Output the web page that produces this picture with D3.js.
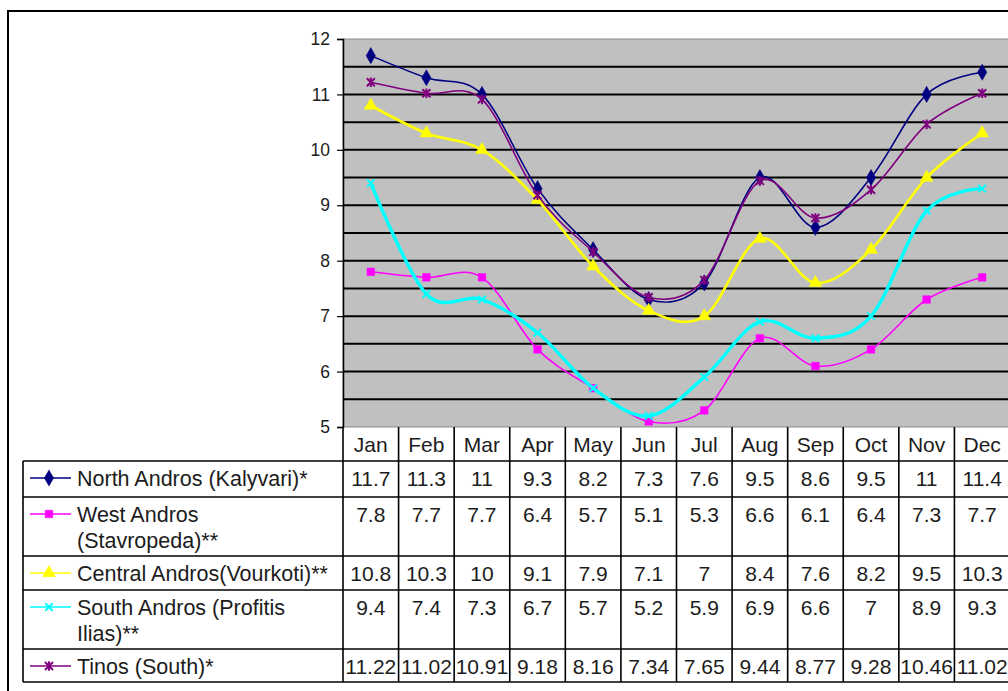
<!DOCTYPE html>
<html>
<head>
<meta charset="utf-8">
<script src="https://cdn.jsdelivr.net/npm/d3@7"></script>
<style>
  html, body { margin: 0; padding: 0; background: #ffffff; }
  svg { display: block; font-family: "Liberation Sans", Arial, sans-serif; }
</style>
</head>
<body>
<svg id="chart" width="1008" height="691"></svg>
<script>
// Monthly mean values per station
const months = ["Jan", "Feb", "Mar", "Apr", "May", "Jun", "Jul", "Aug", "Sep", "Oct", "Nov", "Dec"];
const northAndros   = [11.7, 11.3, 11, 9.3, 8.2, 7.3, 7.6, 9.5, 8.6, 9.5, 11, 11.4];
const westAndros    = [7.8, 7.7, 7.7, 6.4, 5.7, 5.1, 5.3, 6.6, 6.1, 6.4, 7.3, 7.7];
const centralAndros = [10.8, 10.3, 10, 9.1, 7.9, 7.1, 7, 8.4, 7.6, 8.2, 9.5, 10.3];
const southAndros   = [9.4, 7.4, 7.3, 6.7, 5.7, 5.2, 5.9, 6.9, 6.6, 7, 8.9, 9.3];
const tinos         = [11.22, 11.02, 10.91, 9.18, 8.16, 7.34, 7.65, 9.44, 8.77, 9.28, 10.46, 11.02];
const tinosLabels   = ["11.22", "11.02", "10.91", "9.18", "8.16", "7.34", "7.65", "9.44", "8.77", "9.28", "10.46", "11.02"];
const seriesNames = [
  ["North Andros (Kalyvari)*"],
  ["West Andros", "(Stavropeda)**"],
  ["Central Andros(Vourkoti)**"],
  ["South Andros (Profitis", "Ilias)**"],
  ["Tinos (South)*"]
];
const yTicks = [5, 6, 7, 8, 9, 10, 11, 12];

// custom stroke markers: "x" and asterisk
const symX = {
  draw(ctx, size) {
    const r = Math.sqrt(size) / 2;
    ctx.moveTo(-r, -r); ctx.lineTo(r, r);
    ctx.moveTo(r, -r); ctx.lineTo(-r, r);
  }
};
const symStar = {
  draw(ctx, size) {
    const r = Math.sqrt(size) / 2;
    ctx.moveTo(-r, -r); ctx.lineTo(r, r);
    ctx.moveTo(r, -r); ctx.lineTo(-r, r);
    ctx.moveTo(0, -r * 1.2); ctx.lineTo(0, r * 1.2);
  }
};

const series = [
  { values: northAndros,   labels: northAndros.map(String),   color: "#000080", width: 1.6, sym: d3.symbolDiamond,  size: 75, filled: true },
  { values: westAndros,    labels: westAndros.map(String),    color: "#ff00ff", width: 1.6, sym: d3.symbolSquare,   size: 58, filled: true },
  { values: centralAndros, labels: centralAndros.map(String), color: "#ffff00", width: 2.6, sym: d3.symbolTriangle, size: 72, filled: true },
  { values: southAndros,   labels: southAndros.map(String),   color: "#00ffff", width: 3.4, sym: symX,              size: 56, filled: false },
  { values: tinos,         labels: tinosLabels,               color: "#800080", width: 1.6, sym: symStar,           size: 64, filled: false }
];

const svg = d3.select("#chart");

// layout
const plot = { left: 343, right: 1010, top: 39, bottom: 427 };
const tableLeft = 23;
const rowEdges = [461, 497, 556, 590, 649, 682];
const headerTop = plot.bottom, headerBottom = rowEdges[0];
const lineGap = 26;
const textColor = "#1c1c1c";

// outer frame
svg.append("rect")
  .attr("x", 8).attr("y", 11).attr("width", 1020).attr("height", 700)
  .attr("fill", "#ffffff").attr("stroke", "#000").attr("stroke-width", 2);

const x = d3.scaleBand().domain(months).range([plot.left, plot.right]).padding(0);
const y = d3.scaleLinear().domain([5, 12]).range([plot.bottom, plot.top]);

// plot background
svg.append("rect")
  .attr("x", plot.left).attr("y", plot.top)
  .attr("width", plot.right - plot.left).attr("height", plot.bottom - plot.top)
  .attr("fill", "#c0c0c0").attr("stroke", "#8a8a8a").attr("stroke-width", 1);

// horizontal gridlines every 0.5
const gridVals = d3.range(5.5, 12, 0.5);
svg.append("g").selectAll("line").data(gridVals).join("line")
  .attr("x1", plot.left).attr("x2", plot.right)
  .attr("y1", d => y(d)).attr("y2", d => y(d))
  .attr("stroke", "#000").attr("stroke-width", 2);

// y axis
const yAxis = d3.axisLeft(y).tickValues(yTicks).tickSize(6).tickPadding(7).tickFormat(d3.format("d"));
const yg = svg.append("g").attr("transform", `translate(${plot.left},0)`).call(yAxis);
yg.select(".domain").attr("stroke", "#000").attr("stroke-width", 1.5);
yg.selectAll(".tick line").attr("stroke", "#000").attr("stroke-width", 1.2);
yg.selectAll(".tick text").attr("font-size", 17.5).attr("fill", textColor)
  .attr("font-family", "Liberation Sans, Arial, sans-serif");

// series lines and markers
const line = d3.line()
  .x((d, i) => x(months[i]) + x.bandwidth() / 2)
  .y(d => y(d))
  .curve(d3.curveCatmullRom.alpha(0));

const markerPath = s => d3.symbol().type(s.sym).size(s.size)();

series.forEach(s => {
  const g = svg.append("g");
  g.append("path").datum(s.values)
    .attr("d", line).attr("fill", "none")
    .attr("stroke", s.color).attr("stroke-width", s.width)
    .attr("stroke-linejoin", "round").attr("stroke-linecap", "round");
  g.selectAll("path.mk").data(s.values).join("path").attr("class", "mk")
    .attr("transform", (d, i) => `translate(${x(months[i]) + x.bandwidth() / 2},${y(d)})`)
    .attr("d", markerPath(s))
    .attr("fill", s.filled ? s.color : "none")
    .attr("stroke", s.color).attr("stroke-width", s.filled ? 0.5 : 2);
});

// data table
const tg = svg.append("g");
const rightEdge = plot.right;

// header row: month labels
tg.selectAll("text.month").data(months).join("text").attr("class", "month")
  .attr("x", d => x(d) + x.bandwidth() / 2)
  .attr("y", (headerTop + headerBottom) / 2)
  .attr("dy", "0.36em").attr("text-anchor", "middle")
  .attr("font-size", 21).attr("fill", textColor).text(d => d);

// horizontal rules
tg.selectAll("line.h").data(rowEdges).join("line").attr("class", "h")
  .attr("x1", tableLeft).attr("x2", rightEdge)
  .attr("y1", d => d).attr("y2", d => d)
  .attr("stroke", "#000").attr("stroke-width", 1.6);

// vertical rules: table left edge, then column boundaries (including header)
tg.append("line")
  .attr("x1", tableLeft).attr("x2", tableLeft)
  .attr("y1", rowEdges[0]).attr("y2", rowEdges[rowEdges.length - 1])
  .attr("stroke", "#000").attr("stroke-width", 1.6);
const colEdges = months.map(m => x(m)).concat([plot.right]);
tg.selectAll("line.v").data(colEdges).join("line").attr("class", "v")
  .attr("x1", d => d).attr("x2", d => d)
  .attr("y1", headerTop).attr("y2", rowEdges[rowEdges.length - 1])
  .attr("stroke", "#000").attr("stroke-width", 1.6);

// rows: legend key, name, values
series.forEach((s, r) => {
  const cy = rowEdges[r] + 17;
  // legend key
  tg.append("line")
    .attr("x1", 30).attr("x2", 71).attr("y1", cy).attr("y2", cy)
    .attr("stroke", s.color).attr("stroke-width", 1.6);
  tg.append("path")
    .attr("transform", `translate(49,${cy})`)
    .attr("d", markerPath(s))
    .attr("fill", s.filled ? s.color : "none")
    .attr("stroke", s.color).attr("stroke-width", s.filled ? 0.5 : 2);
  // series name (may wrap onto two lines)
  seriesNames[r].forEach((ln, k) => {
    tg.append("text")
      .attr("x", 77).attr("y", cy + k * lineGap).attr("dy", "0.36em")
      .attr("font-size", 21.5).attr("fill", textColor).text(ln);
  });
  // values
  tg.selectAll(null).data(s.labels).join("text")
    .attr("x", (d, i) => x(months[i]) + x.bandwidth() / 2)
    .attr("y", cy).attr("dy", "0.36em").attr("text-anchor", "middle")
    .attr("font-size", 21).attr("fill", textColor).text(d => d);
});
</script>
</body>
</html>
